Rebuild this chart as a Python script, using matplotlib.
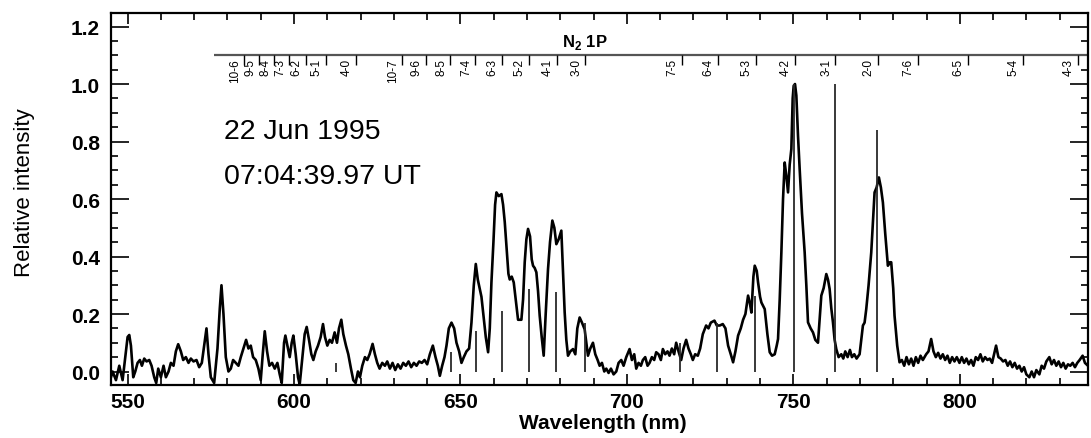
import numpy as np
import matplotlib
matplotlib.use('Agg')
import matplotlib.pyplot as plt
from matplotlib import font_manager
from matplotlib.ticker import MultipleLocator, FormatStrFormatter

installed = {f.name for f in font_manager.fontManager.ttflist}
narrow = 'Liberation Sans Narrow' if 'Liberation Sans Narrow' in installed else 'Liberation Sans'

plt.rcParams['font.family'] = ['Liberation Sans', 'DejaVu Sans']
plt.rcParams['mathtext.fontset'] = 'custom'
plt.rcParams['mathtext.rm'] = 'Liberation Sans'
plt.rcParams['mathtext.bf'] = 'Liberation Sans:bold'

# spectrum, (wavelength nm, relative intensity)
spec_550_647 = [
    (545.0, -0.02), (545.5, 0.0), (546.5, -0.03), (547.5, 0.02), (548.5, -0.03),
    (549.3, 0.05), (550.0, 0.12), (550.5, 0.127), (551.0, 0.09), (551.7, -0.02),
    (552.3, 0.0), (553.0, 0.03), (553.7, 0.04), (554.3, 0.02), (555.0, 0.045),
    (555.7, 0.035), (556.5, 0.04), (557.2, 0.02), (558.0, -0.02), (558.6, -0.04),
    (559.2, 0.01), (560.0, -0.02), (560.8, 0.02), (561.5, -0.02), (562.3, 0.0),
    (563.0, 0.03), (563.8, 0.02), (564.5, 0.07), (565.2, 0.095), (566.0, 0.07),
    (566.7, 0.04), (567.5, 0.05), (568.3, 0.03), (569.0, 0.045), (569.8, 0.035),
    (570.7, 0.04), (571.5, 0.015), (572.3, 0.03), (573.0, 0.09), (573.7, 0.15),
    (574.3, 0.06), (575.0, -0.02), (576.0, -0.04), (577.0, 0.08), (577.7, 0.22),
    (578.2, 0.30), (578.8, 0.20), (579.5, 0.05), (580.3, 0.0), (581.0, 0.01),
    (581.7, 0.04), (582.5, 0.03), (583.3, 0.02), (584.0, 0.05), (584.8, 0.08),
    (585.6, 0.11), (586.3, 0.08), (587.0, 0.09), (587.7, 0.05), (588.5, 0.04),
    (589.3, 0.01), (590.0, -0.03), (590.6, 0.06), (591.2, 0.14), (591.9, 0.07),
    (592.6, 0.02), (593.4, 0.03), (594.2, 0.01), (595.0, 0.03), (595.7, -0.01),
    (596.3, -0.04), (597.0, 0.10), (597.4, 0.125), (598.0, 0.09), (598.7, 0.05),
    (599.3, 0.10), (599.8, 0.125), (600.5, 0.06), (601.2, -0.02), (601.7, -0.045),
    (602.5, 0.05), (603.2, 0.13), (603.8, 0.155), (604.5, 0.11), (605.2, 0.06),
    (605.8, 0.04), (606.5, 0.07), (607.2, 0.09), (608.0, 0.12), (608.7, 0.165),
    (609.3, 0.12), (610.0, 0.09), (610.7, 0.11), (611.4, 0.10), (612.2, 0.136),
    (612.9, 0.10), (613.5, 0.15), (614.2, 0.18), (614.8, 0.13), (615.6, 0.09),
    (616.3, 0.06), (617.1, 0.01), (617.8, -0.03), (618.5, -0.04), (619.2, 0.0),
    (619.8, -0.02), (620.5, 0.02), (621.3, 0.05), (622.0, 0.04), (622.7, 0.06),
    (623.6, 0.096), (624.3, 0.06), (625.0, 0.03), (625.7, 0.01), (626.5, 0.03),
    (627.3, 0.02), (628.0, 0.035), (628.8, 0.01), (629.6, 0.03), (630.4, 0.005),
    (631.2, 0.025), (632.0, 0.01), (632.8, 0.03), (633.6, 0.02), (634.4, 0.035),
    (635.2, 0.015), (636.0, 0.03), (636.8, 0.02), (637.6, 0.035), (638.4, 0.03),
    (639.2, 0.04), (640.0, 0.025), (640.8, 0.06), (641.7, 0.09), (642.5, 0.05),
    (643.2, 0.02), (643.8, -0.015), (644.5, 0.02), (645.2, 0.05), (645.8, 0.09),
    (646.5, 0.15),
]
spec_647_727 = [
    (647.3, 0.17), (648.1, 0.15), (648.8, 0.10), (649.6, 0.07), (650.3, 0.03),
    (651.0, 0.05), (651.8, 0.07), (652.6, 0.08), (653.3, 0.17), (654.0, 0.30),
    (654.6, 0.374), (655.2, 0.32), (655.8, 0.287), (656.3, 0.26), (656.8, 0.205),
    (657.6, 0.12), (658.3, 0.067), (658.8, 0.15), (659.3, 0.31), (659.9, 0.45),
    (660.4, 0.58), (660.8, 0.623), (661.5, 0.61), (662.3, 0.617), (662.8, 0.58),
    (663.3, 0.52), (663.9, 0.42), (664.4, 0.34), (664.8, 0.32), (665.4, 0.33),
    (666.0, 0.31), (666.6, 0.25), (667.3, 0.18), (668.3, 0.18), (668.8, 0.25),
    (669.3, 0.38), (669.8, 0.46), (670.3, 0.496), (670.9, 0.47), (671.4, 0.39),
    (671.8, 0.368), (672.3, 0.36), (672.8, 0.345), (673.3, 0.28), (673.8, 0.194),
    (674.4, 0.12), (675.0, 0.055), (675.6, 0.20), (676.3, 0.356), (676.9, 0.45),
    (677.6, 0.525), (678.2, 0.50), (678.8, 0.443), (679.5, 0.46), (680.3, 0.49),
    (680.8, 0.35), (681.3, 0.206), (681.8, 0.11), (682.3, 0.055), (683.0, 0.07),
    (683.8, 0.078), (684.5, 0.06), (685.1, 0.15), (685.8, 0.188), (686.5, 0.17),
    (687.3, 0.147), (687.8, 0.10), (688.3, 0.055), (689.0, 0.08), (689.8, 0.10),
    (690.5, 0.06), (691.2, 0.04), (691.8, 0.02), (692.5, 0.03), (693.2, 0.0),
    (693.8, 0.01), (694.5, -0.005), (695.2, 0.01), (696.0, -0.01), (696.8, 0.0),
    (697.5, 0.03), (698.3, 0.04), (699.0, 0.02), (699.8, 0.05), (700.8, 0.078),
    (701.5, 0.04), (702.2, 0.06), (702.8, 0.01), (703.5, 0.03), (704.2, 0.02),
    (704.8, 0.04), (705.5, 0.05), (706.2, 0.02), (706.8, 0.03), (707.5, 0.05),
    (708.2, 0.04), (708.8, 0.067), (709.5, 0.06), (710.2, 0.04), (710.8, 0.078),
    (711.5, 0.06), (712.2, 0.07), (712.8, 0.055), (713.5, 0.08), (714.2, 0.06),
    (714.8, 0.10), (715.5, 0.07), (716.3, 0.04), (717.0, 0.08), (717.8, 0.11),
    (718.5, 0.08), (719.2, 0.06), (719.8, 0.04), (720.5, 0.06), (721.3, 0.055),
    (722.0, 0.08), (722.8, 0.13), (723.8, 0.16), (724.5, 0.15), (725.2, 0.17),
    (726.3, 0.177), (727.0, 0.16),
]
spec_728_782 = [
    (727.9, 0.16), (728.8, 0.165), (729.6, 0.15), (730.4, 0.09), (731.2, 0.06),
    (731.9, 0.032), (732.6, 0.07), (733.4, 0.125), (734.2, 0.15), (734.9, 0.18),
    (735.6, 0.20), (736.4, 0.264), (736.9, 0.24), (737.4, 0.205), (738.0, 0.33),
    (738.4, 0.368), (739.0, 0.35), (739.4, 0.31), (740.0, 0.26), (740.4, 0.24),
    (741.4, 0.217), (742.2, 0.13), (742.9, 0.067), (743.6, 0.055), (744.4, 0.06),
    (745.0, 0.09), (745.4, 0.113), (745.9, 0.25), (746.4, 0.414), (746.9, 0.60),
    (747.4, 0.727), (747.9, 0.68), (748.4, 0.623), (748.9, 0.72), (749.4, 0.774),
    (749.8, 0.95), (750.1, 0.994), (750.5, 1.0), (750.9, 0.96), (751.4, 0.82),
    (751.9, 0.704), (752.6, 0.55), (753.4, 0.414), (753.9, 0.30), (754.4, 0.171),
    (755.2, 0.15), (755.9, 0.136), (756.6, 0.11), (757.4, 0.10), (757.9, 0.18),
    (758.4, 0.264), (759.1, 0.29), (759.9, 0.339), (760.4, 0.32), (760.9, 0.287),
    (761.4, 0.22), (761.9, 0.171), (762.4, 0.11), (762.9, 0.078), (763.6, 0.05),
    (764.4, 0.06), (765.0, 0.045), (765.6, 0.07), (766.3, 0.05), (767.0, 0.075),
    (767.6, 0.05), (768.3, 0.06), (769.0, 0.045), (769.9, 0.06), (770.4, 0.11),
    (770.9, 0.16), (771.4, 0.17), (771.9, 0.217), (772.6, 0.30), (773.4, 0.414),
    (773.9, 0.52), (774.4, 0.623), (775.0, 0.64), (775.7, 0.675), (776.3, 0.64),
    (776.9, 0.588), (777.6, 0.48), (778.4, 0.368), (779.0, 0.38), (779.4, 0.38),
    (780.0, 0.29), (780.4, 0.194), (781.2, 0.09),
]
spec_782_838 = [
    (781.9, 0.032), (782.6, 0.04), (783.3, 0.02), (784.0, 0.05), (784.7, 0.025),
    (785.4, 0.045), (786.1, 0.02), (786.8, 0.05), (787.5, 0.03), (788.2, 0.055),
    (788.9, 0.04), (789.9, 0.06), (790.6, 0.07), (791.4, 0.113), (792.1, 0.07),
    (792.8, 0.05), (793.5, 0.065), (794.2, 0.045), (794.9, 0.06), (795.6, 0.04),
    (796.3, 0.055), (797.0, 0.03), (797.7, 0.05), (798.4, 0.035), (799.1, 0.05),
    (799.9, 0.03), (800.6, 0.05), (801.3, 0.03), (802.0, 0.045), (802.7, 0.025),
    (803.4, 0.04), (804.1, 0.02), (804.8, 0.05), (805.5, 0.04), (806.2, 0.06),
    (806.9, 0.035), (807.6, 0.05), (808.3, 0.04), (809.0, 0.045), (809.7, 0.03),
    (810.3, 0.06), (810.9, 0.09), (811.6, 0.05), (812.3, 0.045), (813.0, 0.035),
    (813.7, 0.04), (814.4, 0.02), (815.1, 0.035), (815.8, 0.015), (816.5, 0.03),
    (817.2, 0.01), (817.9, 0.02), (818.6, 0.0), (819.3, 0.015), (820.0, -0.01),
    (820.9, -0.02), (821.6, 0.0), (822.3, -0.02), (823.0, 0.005), (823.9, -0.01),
    (824.6, 0.02), (825.3, 0.01), (826.0, 0.035), (826.9, 0.05), (827.6, 0.025),
    (828.3, 0.04), (829.0, 0.02), (829.7, 0.035), (830.4, 0.015), (831.1, 0.03),
    (831.8, 0.01), (832.5, 0.025), (833.2, 0.02), (833.9, 0.03), (834.6, 0.015),
    (835.3, 0.03), (836.0, 0.04), (836.9, 0.055), (837.6, 0.03), (838.5, 0.02),
]

# model band intensities (sticks)
stick_wl = [612.7, 647.3, 654.6, 662.5, 670.6, 678.8, 687.3, 716.0, 727.1, 738.4, 750.2, 762.5, 775.1]
stick_top = [0.03, 0.067, 0.142, 0.212, 0.287, 0.275, 0.17, 0.10, 0.17, 0.264, 1.0, 1.0, 0.84]

# N2 first positive band heads
band_labels = ['10-6', '9-5', '8-4', '7-3', '6-2', '5-1', '4-0',
               '10-7', '9-6', '8-5', '7-4', '6-3', '5-2', '4-1', '3-0',
               '7-5', '6-4', '5-3', '4-2', '3-1', '2-0', '7-6', '6-5', '5-4', '4-3']
band_wl = [585.0, 589.5, 594.0, 598.5, 603.5, 609.5, 618.5,
           632.3, 639.5, 646.9, 654.5, 662.4, 670.5, 678.9, 687.5,
           716.5, 727.3, 738.7, 750.4, 762.6, 775.3, 787.3, 802.4, 818.9, 835.4]

spec = np.array(spec_550_647 + spec_647_727 + spec_728_782 + spec_782_838)
wl, inten = spec[:, 0], spec[:, 1]

fig = plt.figure(figsize=(10.91, 4.39), dpi=100)
ax = fig.add_axes([0.1017, 0.1207, 0.8955, 0.8474])

ax.plot(wl, inten, color='black', lw=1.9)
ax.vlines(stick_wl, 0.0, stick_top, color='#2a2a2a', lw=1.3)

# band head scale at top
ax.hlines(1.10, 576, 838.5, color='#555555', lw=1.6)
ax.vlines(band_wl, 1.066, 1.10, color='black', lw=1.0)
for lab, w in zip(band_labels, band_wl):
    ax.text(w - 2.7, 1.09, lab, rotation=90, ha='center', va='top', fontsize=8.5)
ax.text(680.5, 1.132, r'N$_{\mathbf{2}}$ 1P', ha='left', va='baseline',
        fontsize=12, fontweight='bold')

ax.text(579, 0.835, '22 Jun 1995', ha='left', va='center', fontsize=20.5)
ax.text(579, 0.68, '07:04:39.97 UT', ha='left', va='center', fontsize=20.5)

ax.set_xlim(545, 838.5)
ax.set_ylim(-0.047, 1.247)
ax.xaxis.set_major_locator(MultipleLocator(50))
ax.xaxis.set_minor_locator(MultipleLocator(10))
ax.yaxis.set_major_locator(MultipleLocator(0.2))
ax.yaxis.set_minor_locator(MultipleLocator(0.05))
ax.yaxis.set_major_formatter(FormatStrFormatter('%.1f'))

ax.tick_params(which='both', direction='in', top=True, right=True, width=1.2)
ax.tick_params(axis='x', which='major', length=8, pad=5, labelsize=15)
ax.tick_params(axis='x', which='minor', length=5)
ax.tick_params(axis='y', which='major', length=13, pad=8, labelsize=15)
ax.tick_params(axis='y', which='minor', length=5)
for t in ax.get_xticklabels() + ax.get_yticklabels():
    t.set_fontweight('bold')
for s in ax.spines.values():
    s.set_linewidth(1.6)

ax.set_xlabel('Wavelength (nm)', fontsize=15, fontweight='bold')
ax.xaxis.set_label_coords(0.503, -0.075)
ax.set_ylabel('Relative intensity', fontsize=16, family=narrow)
ax.yaxis.set_label_coords(-0.078, 0.52)

fig.savefig('out.png', dpi=100)
